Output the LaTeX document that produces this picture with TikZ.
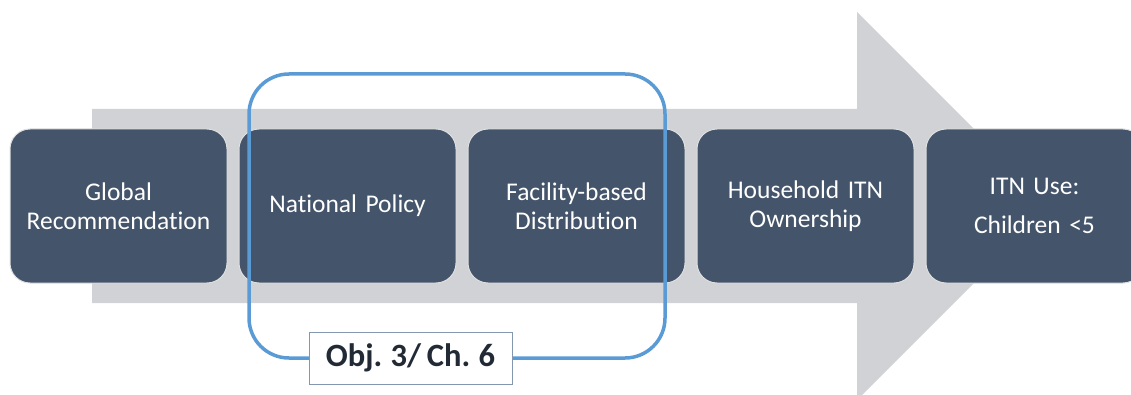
\documentclass[tikz,border=0pt]{standalone}
\usepackage{fontspec}
\setmainfont{Carlito}[Ligatures=NoCommon,WordSpace=0.8]
\usetikzlibrary{positioning}
\definecolor{slate}{HTML}{44546A}
\definecolor{arrowgray}{HTML}{D0D2D5}
\definecolor{objblue}{HTML}{5B9BD5}
\definecolor{labelframe}{HTML}{8497B0}
\definecolor{labeltext}{HTML}{222A35}
\begin{document}
\begin{tikzpicture}[x=1pt,y=1pt]
      \useasboundingbox (0,0) rectangle (1131,394);
      \clip (0,0) rectangle (1131,394);

      % big background arrow
      \fill[arrowgray] (92,285) -- (857,285) -- (857,382) -- (1051,188)
                       -- (857,-6) -- (857,91) -- (92,91) -- cycle;

      \begin{scope}[shape=rectangle,minimum width=217pt,minimum height=154pt,
                    text width=205pt,align=center,rounded corners=20pt]
          \tikzstyle{every node}=[draw=white!88!black,line width=1pt,fill=slate,text=white,
                                  font=\fontsize{25.5}{28.5}\selectfont]
          \node (global)    at (118.5,188) {Global\\Recommendation};
          \node (national)  at (347.5,188) {National Policy};
          \node (facility)  at (576.5,188) {Facility-based\\Distribution};
          \node (household) at (805.5,188) {Household ITN\\Ownership};
          \node (itnuse)    at (1034.5,188) {ITN Use:\\[11pt]Children <5};
      \end{scope}

      % objective bracket
      \draw[objblue,line width=3.5pt,rounded corners=40pt] (249,36) rectangle (665,320);
      \node[draw=labelframe,line width=1pt,fill=white,text=labeltext,
            minimum width=203pt,minimum height=52pt,
            font=\fontsize{32.5}{38}\selectfont\bfseries] (obj) at (410.5,36) {Obj. 3/ Ch. 6};
  \end{tikzpicture}
\end{document}
